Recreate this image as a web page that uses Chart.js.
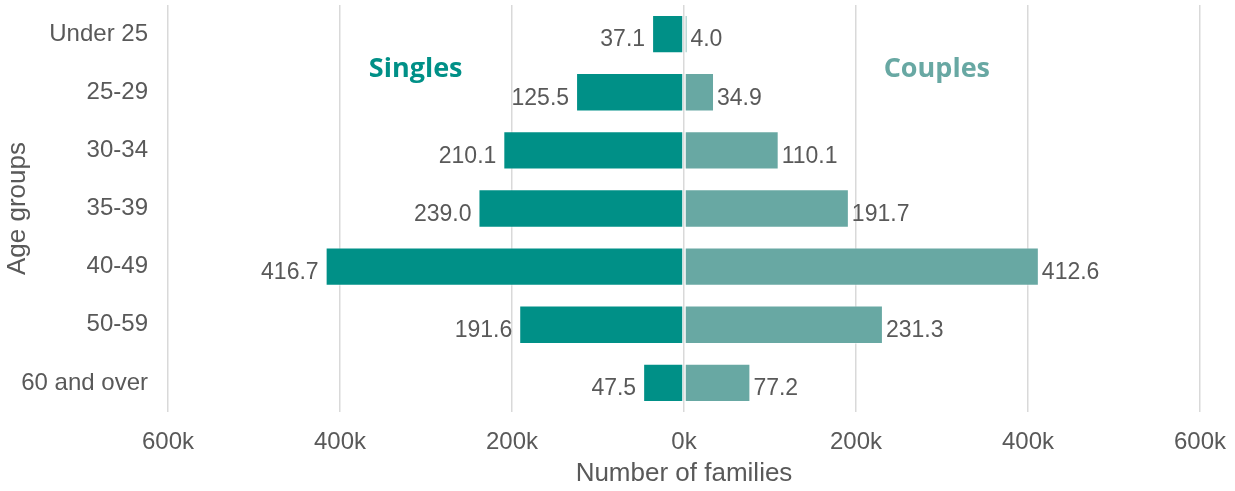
<!DOCTYPE html>
<html>
<head>
<meta charset="utf-8">
<script src="https://cdn.jsdelivr.net/npm/chart.js@4/dist/chart.umd.min.js"></script>
<style>
  body { margin: 0; background: #fff; }
</style>
</head>
<body>
<canvas id="myChart" width="1235" height="491"></canvas>
<script>
// age groups and values in thousands of families
var ageGroups = ["Under 25", "25-29", "30-34", "35-39", "40-49", "50-59", "60 and over"];
var singles = [37.1, 125.5, 210.1, 239.0, 416.7, 191.6, 47.5];
var couples = [4.0, 34.9, 110.1, 191.7, 412.6, 231.3, 77.2];
var xTicks = [-600000, -400000, -200000, 0, 200000, 400000, 600000];

var teal = "#009087";
var lightTeal = "#68a8a3";
var grey = "#595959";
var font = "'Liberation Sans', Arial, sans-serif";

// value labels at bar ends + "Singles"/"Couples" captions
var labelPlugin = {
  id: "barLabels",
  afterDatasetsDraw: function (chart) {
    var ctx = chart.ctx;
    ctx.save();
    ctx.font = "23px " + font;
    ctx.fillStyle = grey;
    ctx.textBaseline = "middle";
    chart.data.datasets.forEach(function (ds, i) {
      var meta = chart.getDatasetMeta(i);
      meta.data.forEach(function (bar, j) {
        var v = ds.raw[j].toFixed(1);
        if (i === 0) {
          ctx.textAlign = "right";
          ctx.fillText(v, bar.x - 7, bar.y + 6);
        } else {
          ctx.textAlign = "left";
          ctx.fillText(v, bar.x + 3, bar.y + 6);
        }
      });
    });
    var xs = chart.scales.x, ys = chart.scales.y;
    ctx.font = "bold 27px 'Open Sans', sans-serif";
    ctx.textAlign = "center";
    ctx.fillStyle = teal;
    ctx.fillText("Singles", xs.getPixelForValue(-312000), ys.getPixelForValue(0.6));
    ctx.fillStyle = lightTeal;
    ctx.fillText("Couples", xs.getPixelForValue(294000), ys.getPixelForValue(0.6));
    ctx.restore();
  }
};

var ctx = document.getElementById("myChart").getContext("2d");
var myChart = new Chart(ctx, {
  type: "bar",
  data: {
    labels: ageGroups,
    datasets: [
      {
        label: "Singles",
        raw: singles,
        data: singles.map(function (v) { return -v * 1000; }),
        backgroundColor: teal,
        borderColor: "rgba(255,255,255,0.5)",
        borderWidth: 1,
        borderSkipped: false
      },
      {
        label: "Couples",
        raw: couples,
        data: couples.map(function (v) { return v * 1000; }),
        backgroundColor: lightTeal,
        borderColor: "rgba(255,255,255,0.5)",
        borderWidth: 1,
        borderSkipped: false
      }
    ]
  },
  options: {
    responsive: false,
    animation: false,
    indexAxis: "y",
    layout: { padding: { top: 5, right: 35, left: 2, bottom: 2 } },
    datasets: { bar: { categoryPercentage: 1, barPercentage: 0.66 } },
    plugins: {
      legend: { display: false },
      tooltip: { enabled: false }
    },
    scales: {
      x: {
        stacked: true,
        min: -600000,
        max: 600000,
        afterBuildTicks: function (scale) {
          scale.ticks = xTicks.map(function (v) { return { value: v }; });
        },
        afterFit: function (scale) {
          scale.height = 77;
          scale.paddingLeft = 0;
          scale.paddingRight = 0;
        },
        grid: { color: "#d9d9d9", lineWidth: 1.5, drawTicks: false },
        border: { display: false },
        ticks: {
          color: grey,
          padding: 16,
          maxRotation: 0,
          font: { family: font, size: 24 },
          callback: function (v) { return Math.abs(v) / 1000 + "k"; }
        },
        title: {
          display: true,
          text: "Number of families",
          color: grey,
          padding: { top: 4, bottom: 0 },
          font: { family: font, size: 26 }
        }
      },
      y: {
        stacked: true,
        afterFit: function (scale) {
          scale.width = 166;
          scale.paddingTop = 0;
          scale.paddingBottom = 0;
        },
        grid: { display: false, drawTicks: false },
        border: { display: false },
        ticks: {
          color: grey,
          padding: 20,
          font: { family: font, size: 24 }
        },
        title: {
          display: true,
          text: "Age groups",
          color: grey,
          padding: { top: 0, bottom: 2 },
          font: { family: font, size: 26 }
        }
      }
    }
  },
  plugins: [labelPlugin]
});
</script>
</body>
</html>
